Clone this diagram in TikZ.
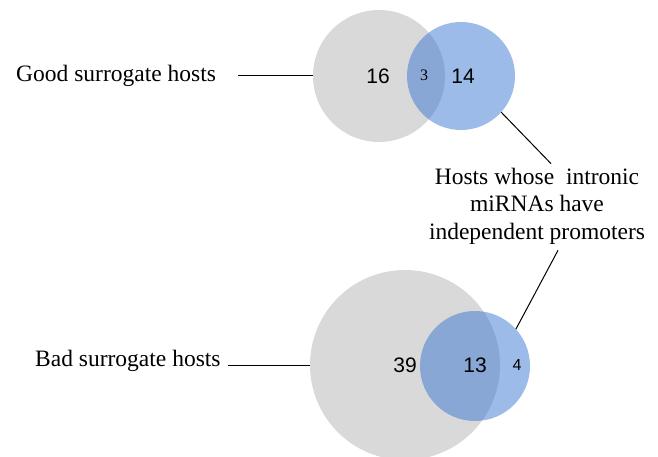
\documentclass[tikz,border=0pt]{standalone}
\usepackage{fontspec}
\setmainfont{Liberation Serif}
\newfontfamily\numfont{Liberation Sans}
\usetikzlibrary{calc}
\definecolor{vgray}{RGB}{217,217,217}
\definecolor{vblue}{RGB}{59,119,209}
\tikzset{
  gset/.style={circle,fill=vgray,draw=none,inner sep=0pt,outer sep=0pt},
  bset/.style={circle,fill=vblue,fill opacity=0.5,draw=none,inner sep=0pt,outer sep=0pt},
  lbl/.style={font=\fontsize{23.5}{27.5}\selectfont,inner sep=0pt},
  bignum/.style={font=\numfont\fontsize{21}{24}\selectfont,inner sep=0pt},
  smallnum/.style={font=\fontsize{16}{18}\selectfont,inner sep=0pt},
  smallsans/.style={font=\numfont\fontsize{16}{18}\selectfont,inner sep=0pt},
  conn/.style={draw=black,line width=1pt}
}
\begin{document}
\begin{tikzpicture}[x=1pt,y=-1pt]
\useasboundingbox (0,0) rectangle (658,457);
\clip (0,0) rectangle (658,457);
% top venn
\node[gset,minimum size=132pt] (g1) at (379,76) {};
\node[bset,minimum size=108pt] (b1) at (461,76) {};
\node[bignum] (n16) at (378,76) {16};
\node[smallnum] (n3) at (424,75) {3};
\node[bignum] (n14) at (463,76) {14};
% bottom venn
\node[gset,minimum size=190pt] (g2) at (405,365) {};
\node[bset,minimum size=110pt] (b2) at (475,366) {};
\node[bignum] (n39) at (405,365) {39};
\node[bignum] (n13) at (475,365) {13};
\node[smallsans] (n4) at (517,365) {4};
% labels
\node[lbl,anchor=west] (good) at (16,76) {Good surrogate hosts};
\node[lbl,anchor=west] (bad) at (35,361) {Bad surrogate hosts};
\node[lbl,align=center] (hosts) at (537,206) {Hosts whose\ \ intronic\\miRNAs have\\independent promoters};
% connectors
\draw[conn,shorten <=22pt] (good.east) -- (g1.west);
\draw[conn,shorten <=7pt] (bad.east |- g2.west) -- (g2.west);
\draw[conn] (b1.-42) -- ($(hosts.north)+(14,-4)$);
\draw[conn] ($(hosts.south)+(21,6)$) -- (b2.42);
\end{tikzpicture}
\end{document}
